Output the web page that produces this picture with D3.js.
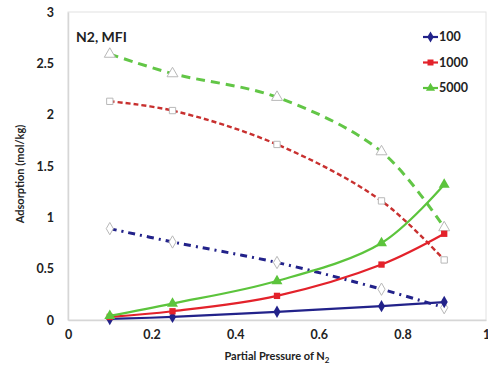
<!DOCTYPE html>
<html>
<head>
<meta charset="utf-8">
<script src="https://cdn.jsdelivr.net/npm/d3@7"></script>
<style>
  body { margin: 0; background: #fff; }
  svg text { font-family: Lato, "Open Sans", sans-serif; font-weight: bold; fill: #222; }
</style>
</head>
<body>
<div id="chart"></div>
<script>
// N2 adsorption in MFI, at three total pressures

const pressures = [0.1, 0.25, 0.5, 0.75, 0.9];
const seriesNames = ["100", "1000", "5000"];
const colors = ["#22228a", "#e3222b", "#5cc43c"];
const dashColors = ["#22228a", "#c8302f", "#62c646"];
const symbols = [d3.symbolDiamond, d3.symbolSquare, d3.symbolTriangle];

// solid lines, filled markers
const solid100 = [0.01, 0.03, 0.08, 0.135, 0.175];
const solid1000 = [0.03, 0.085, 0.235, 0.54, 0.84];
const solid5000 = [0.04, 0.16, 0.38, 0.75, 1.32];

// dashed lines, open markers
const dashed100 = [0.89, 0.76, 0.56, 0.30, 0.12];
const dashed1000 = [2.13, 2.04, 1.71, 1.16, 0.585];
const dashed5000 = [2.59, 2.40, 2.17, 1.64, 0.90];

const xTicks = [0, 0.2, 0.4, 0.6, 0.8, 1];
const yTicks = [0, 0.5, 1, 1.5, 2, 2.5, 3];

const width = 488, height = 372;
const margin = { left: 68, right: 2, top: 12, bottom: 52 };

const svg = d3.select("#chart").append("svg")
    .attr("width", width)
    .attr("height", height);

const x = d3.scaleLinear().domain([0, 1]).range([margin.left, width - margin.right]);
const y = d3.scaleLinear().domain([0, 3]).range([height - margin.bottom, margin.top]);

// plot frame
svg.append("rect")
    .attr("x", x(0)).attr("y", y(3))
    .attr("width", x(1) - x(0)).attr("height", y(0) - y(3))
    .attr("fill", "none").attr("stroke", "#e2e2e2");

const xAxis = svg.append("g")
    .attr("transform", `translate(0,${y(0)})`)
    .call(d3.axisBottom(x).tickValues(xTicks).tickSize(0).tickPadding(10).tickFormat(d3.format("")));
const yAxis = svg.append("g")
    .attr("transform", `translate(${x(0)},0)`)
    .call(d3.axisLeft(y).tickValues(yTicks).tickSize(0).tickPadding(14).tickFormat(d3.format("")));
[xAxis, yAxis].forEach(a => {
    a.select(".domain").attr("stroke", "#d6d6d6").attr("stroke-width", 1.5);
    a.selectAll("text").style("font-size", "12.5px").style("font-family", "Lato, sans-serif").attr("fill", "#222");
});

const line = d3.line()
    .x((d, i) => x(pressures[i]))
    .y(d => y(d))
    .curve(d3.curveCatmullRom);

const solids = [solid100, solid1000, solid5000];
const dashes = [dashed100, dashed1000, dashed5000];
const dashStyles = ["7,5,2,5", "5,3", "9,6"];
const markerSize = [44, 40, 52];

// dashed series
dashes.forEach((vals, k) => {
    svg.append("path")
        .attr("d", line(vals))
        .attr("fill", "none")
        .attr("stroke", dashColors[k])
        .attr("stroke-width", k === 1 ? 2.4 : 3)
        .attr("stroke-dasharray", dashStyles[k]);
    svg.selectAll(null).data(vals).enter().append("path")
        .attr("transform", (d, i) => `translate(${x(pressures[i])},${y(d)})`)
        .attr("d", d3.symbol().type(symbols[k]).size(markerSize[k]))
        .attr("fill", "#fff")
        .attr("stroke", "#b8b8b8")
        .attr("stroke-width", 1);
});

// solid series
solids.forEach((vals, k) => {
    svg.append("path")
        .attr("d", line(vals))
        .attr("fill", "none")
        .attr("stroke", colors[k])
        .attr("stroke-width", 2.2);
    svg.selectAll(null).data(vals).enter().append("path")
        .attr("transform", (d, i) => `translate(${x(pressures[i])},${y(d)})`)
        .attr("d", d3.symbol().type(symbols[k]).size(markerSize[k]))
        .attr("fill", colors[k]);
});

// legend
const legend = svg.append("g").attr("transform", "translate(423,37)");
seriesNames.forEach((name, k) => {
    const row = legend.append("g").attr("transform", `translate(0,${k * 25.5})`);
    row.append("line").attr("x1", 0).attr("x2", 15).attr("stroke", colors[k]).attr("stroke-width", 2.2);
    row.append("path").attr("transform", "translate(7.5,0)")
        .attr("d", d3.symbol().type(symbols[k]).size(36)).attr("fill", colors[k]);
    row.append("text").attr("x", 16).attr("dy", "0.35em").style("font-size", "12.5px").text(name);
});

// title and axis labels
svg.append("text").attr("x", 76).attr("y", 42).style("font-size", "14px").text("N2, MFI");

svg.append("text")
    .attr("transform", `translate(24,${(y(0) + y(3)) / 2 + 8}) rotate(-90)`)
    .attr("text-anchor", "middle")
    .style("font-size", "11px")
    .text("Adsorption (mol/kg)");

const xt = svg.append("text")
    .attr("x", 277).attr("y", 360)
    .attr("text-anchor", "middle")
    .style("font-size", "11px");
xt.append("tspan").text("Partial Pressure of N");
xt.append("tspan").attr("dy", 3).style("font-size", "8px").text("2");
</script>
</body>
</html>
